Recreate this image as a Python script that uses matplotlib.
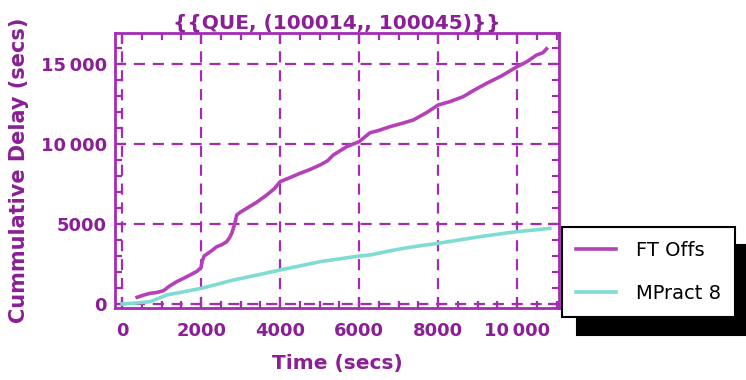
import matplotlib.pyplot as plt
from matplotlib.ticker import MultipleLocator, FuncFormatter

# Cumulative delay curves
ft_time = [380, 550, 708, 880, 1046, 1200, 1383, 1550, 1720, 1900, 2000, 2030, 2075,
           2250, 2395, 2520, 2648, 2720, 2775, 2850, 2901, 3000, 3154, 3400, 3660,
           3850, 4000, 4250, 4503, 4750, 5009, 5200, 5346, 5500, 5684, 5850, 6000,
           6274, 6500, 6780, 7100, 7370, 7700, 8000, 8300, 8635, 8900, 9227, 9600,
           10000, 10250, 10492, 10650, 10745]
ft_delay = [420, 560, 667, 720, 833, 1120, 1396, 1600, 1812, 2050, 2290, 2700, 3000,
            3300, 3583, 3700, 3896, 4150, 4417, 5000, 5562, 5750, 5979, 6350, 6812,
            7200, 7646, 7900, 8167, 8400, 8687, 8950, 9312, 9550, 9833, 10000, 10146,
            10700, 10850, 11083, 11300, 11500, 11950, 12437, 12650, 12958, 13350, 13792,
            14250, 14833, 15150, 15562, 15700, 15950]

mp_time = [0, 350, 708, 900, 1130, 1550, 2000, 2400, 2817, 3400, 4000, 4500, 5009,
           5500, 6000, 6274, 6700, 7117, 7550, 8000, 8500, 9057, 9500, 10000, 10450, 10828]
mp_delay = [0, 60, 146, 330, 562, 760, 979, 1230, 1500, 1800, 2125, 2380, 2646, 2820,
            3000, 3062, 3280, 3479, 3640, 3792, 3990, 4208, 4360, 4521, 4630, 4729]

xticks = [0, 2000, 4000, 6000, 8000, 10000]
yticks = [0, 5000, 10000, 15000]

purple = "#8a1f96"
frame = "#a32cb3"

plt.rcParams["font.family"] = ["DejaVu Sans"]

fig = plt.figure(figsize=(7.46, 3.8), dpi=100)
ax = fig.add_axes([0.1542, 0.1895, 0.5951, 0.7237])

ax.plot(ft_time, ft_delay, color="#b441b8", lw=2.6, label="FT Offs")
ax.plot(mp_time, mp_delay, color="#7edcd2", lw=2.6, label="MPract 8")

ax.set_xlim(-180, 11060)
ax.set_ylim(-250, 16940)
ax.set_xticks(xticks)
ax.set_yticks(yticks)
ax.xaxis.set_minor_locator(MultipleLocator(500))
ax.yaxis.set_minor_locator(MultipleLocator(1000))


def thin_thousands(v, pos):
    v = int(round(v))
    if v >= 10000:
        return f"{v // 1000}\u2009{v % 1000:03d}"
    return str(v)


ax.xaxis.set_major_formatter(FuncFormatter(thin_thousands))
ax.yaxis.set_major_formatter(FuncFormatter(thin_thousands))

ax.tick_params(which="both", direction="in", top=True, right=True, color=frame,
               width=1.6, labelcolor=purple, labelsize=13)
ax.tick_params(which="major", length=8, pad=6)
ax.tick_params(axis="x", which="major", pad=10)
ax.tick_params(which="minor", length=5)
for lbl in ax.get_xticklabels() + ax.get_yticklabels():
    lbl.set_fontweight("bold")

for sp in ax.spines.values():
    sp.set_color(frame)
    sp.set_linewidth(2)

ax.grid(True, which="major", color=frame, ls=(0, (5, 3.5)), lw=1.6)

ax.set_title("{{QUE, (100014,, 100045)}}", color=purple, fontsize=14.5,
             fontweight="bold", pad=3)
ax.set_xlabel("Time (secs)", color=purple, fontsize=14.5, fontweight="bold", labelpad=10)
ax.set_ylabel("Cummulative Delay (secs)", color=purple, fontsize=15,
              fontweight="bold", labelpad=8)

leg = fig.legend(loc="upper left", bbox_to_anchor=(562 / 746, 1 - 227 / 380),
                 fontsize=14, frameon=True, fancybox=False, edgecolor="black",
                 framealpha=1, borderpad=0.7, handlelength=2.1, handletextpad=1.0,
                 labelspacing=1.25, borderaxespad=0,
                 shadow={"ox": 10.8, "oy": -13, "facecolor": "black",
                         "edgecolor": "black", "alpha": 1})
leg.get_frame().set_linewidth(1.5)

fig.savefig("out.png", dpi=100)
